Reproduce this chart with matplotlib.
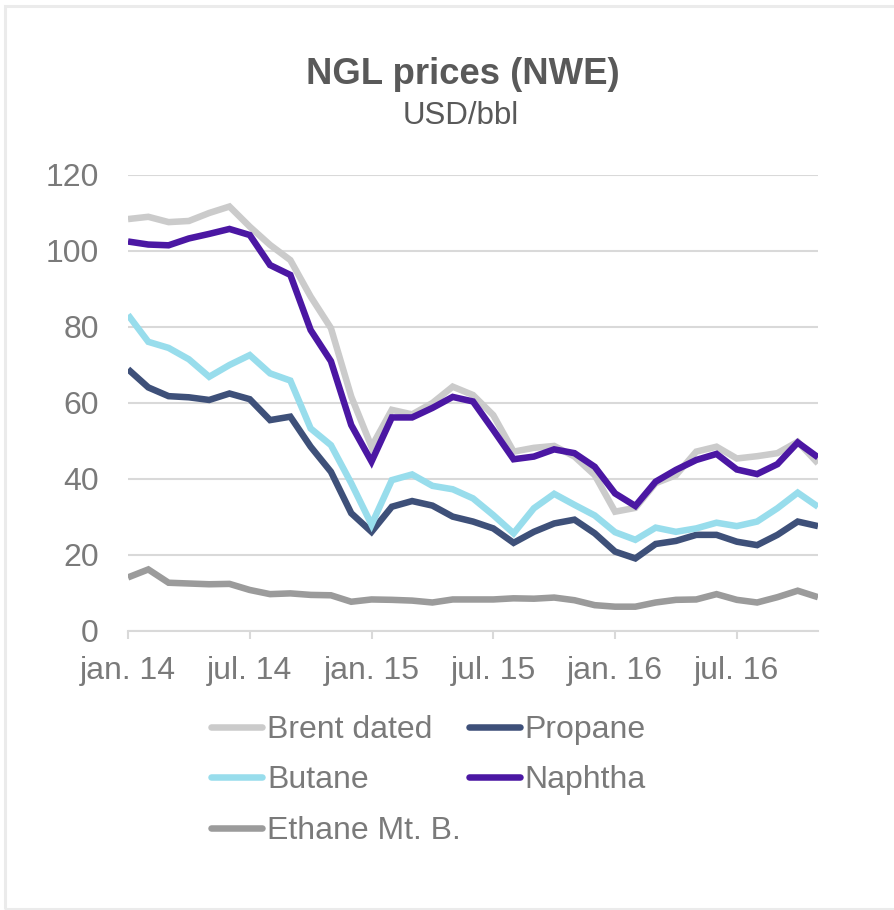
import matplotlib
matplotlib.use("Agg")
import matplotlib.pyplot as plt
from matplotlib.patches import Rectangle
import numpy as np

plt.rcParams['font.family'] = ['Liberation Sans', 'DejaVu Sans']

months = list(range(35))  # jan 2014 .. nov 2016
tick_positions = [0, 6, 12, 18, 24, 30]
tick_labels = ["jan. 14", "jul. 14", "jan. 15", "jul. 15", "jan. 16", "jul. 16"]

brent = [108.4, 109.0, 107.6, 107.9, 110.0, 111.7, 106.4, 101.6, 97.6, 88.0, 79.7, 61.7,
         48.5, 58.2, 57.0, 60.0, 64.3, 62.1, 56.8, 47.2, 48.2, 48.7, 45.9, 41.0,
         31.4, 32.4, 38.9, 41.0, 47.2, 48.5, 45.4, 46.0, 46.8, 49.8, 44.1]
propane = [68.9, 64.1, 61.8, 61.5, 60.8, 62.5, 61.0, 55.5, 56.4, 48.5, 41.9, 31.0,
           26.1, 32.7, 34.2, 33.0, 30.1, 28.8, 27.0, 23.2, 26.1, 28.3, 29.3, 25.7,
           20.9, 19.1, 22.9, 23.7, 25.3, 25.3, 23.5, 22.6, 25.3, 28.8, 27.6]
butane = [83.2, 76.1, 74.5, 71.5, 66.9, 70.0, 72.6, 67.8, 65.9, 53.3, 48.9, 38.9,
          28.0, 39.7, 41.2, 38.2, 37.3, 34.9, 30.5, 25.7, 32.3, 36.1, 33.2, 30.4,
          26.0, 24.0, 27.2, 26.1, 27.0, 28.5, 27.6, 28.8, 32.3, 36.4, 32.7]
naphtha = [102.5, 101.7, 101.5, 103.3, 104.5, 105.8, 104.2, 96.3, 93.7, 79.2, 71.0, 54.2,
           44.6, 56.2, 56.2, 58.7, 61.6, 60.4, 52.9, 45.2, 45.9, 47.8, 46.8, 43.2,
           36.2, 32.9, 39.3, 42.4, 45.0, 46.6, 42.5, 41.3, 43.9, 49.6, 45.7]
ethane = [14.1, 16.2, 12.7, 12.5, 12.3, 12.4, 10.8, 9.7, 9.9, 9.5, 9.4, 7.7,
          8.3, 8.2, 8.0, 7.5, 8.3, 8.3, 8.3, 8.6, 8.5, 8.8, 8.1, 6.8,
          6.4, 6.4, 7.5, 8.2, 8.3, 9.7, 8.2, 7.5, 8.9, 10.6, 8.9]

series_names = ["Brent dated", "Propane", "Butane", "Naphtha", "Ethane Mt. B."]
colors = {"Brent dated": "#CBCBCB", "Propane": "#3E5079", "Butane": "#98DDEC",
          "Naphtha": "#4B17A3", "Ethane Mt. B.": "#9B9B9B"}
data = {"Brent dated": brent, "Propane": propane, "Butane": butane,
        "Naphtha": naphtha, "Ethane Mt. B.": ethane}

W, H = 894, 910
fig = plt.figure(figsize=(W / 100, H / 100), dpi=100)

# figure border
fig.patches.append(Rectangle((4.5 / W, 1 - 908.5 / H), (W + 10) / W, (908.5 - 5.5) / H,
                             transform=fig.transFigure, fill=False,
                             edgecolor="#EBEBEB", linewidth=2.2))

ax_l, ax_r, ax_t, ax_b = 128, 818, 175, 631
ax = fig.add_axes([ax_l / W, 1 - ax_b / H, (ax_r - ax_l) / W, (ax_b - ax_t) / H])

handles = {}
for name in series_names:
    (h,) = ax.plot(months, data[name], color=colors[name], linewidth=4.7,
                   solid_joinstyle="miter", solid_capstyle="butt", label=name)
    handles[name] = h

FS = 23
ax.set_xlim(0, 34)
ax.set_ylim(0, 120)
ax.set_yticks(range(0, 121, 20))
ax.grid(axis="y", color="#D9D9D9", linewidth=1.5)
ax.set_axisbelow(True)
for s in ["top", "right", "left"]:
    ax.spines[s].set_visible(False)
ax.spines["bottom"].set_color("#D9D9D9")
ax.spines["bottom"].set_linewidth(1.5)
ax.set_xticks(tick_positions)
ax.set_xticklabels(tick_labels)
ax.tick_params(axis="x", direction="out", length=6, width=1.5, color="#D9D9D9",
               labelsize=FS, labelcolor="#7A7A7A", pad=12)
ax.tick_params(axis="y", length=0, labelsize=FS, labelcolor="#7A7A7A", pad=21)

fig.text(463 / W, 1 - 74 / H, "NGL prices (NWE)", ha="center", va="center",
         fontsize=26.3, fontweight="bold", color="#595959")
fig.text(461 / W, 1 - 116 / H, "USD/bbl", ha="center", va="center",
         fontsize=22.5, color="#595959")

order = ["Brent dated", "Butane", "Ethane Mt. B.", "Propane", "Naphtha"]
leg = fig.legend([handles[n] for n in order], order, ncol=2,
                 loc="upper left", bbox_to_anchor=(211 / W, 1 - 715 / H),
                 frameon=False, fontsize=FS, handlelength=1.6,
                 handletextpad=0.15, columnspacing=0.25, labelspacing=0.64,
                 borderpad=0, borderaxespad=0)
for t in leg.get_texts():
    t.set_color("#7A7A7A")
for lh in leg.get_lines():
    lh.set_solid_capstyle("round")
    lh.set_linewidth(4.7)

fig.savefig("out.png", dpi=100)
